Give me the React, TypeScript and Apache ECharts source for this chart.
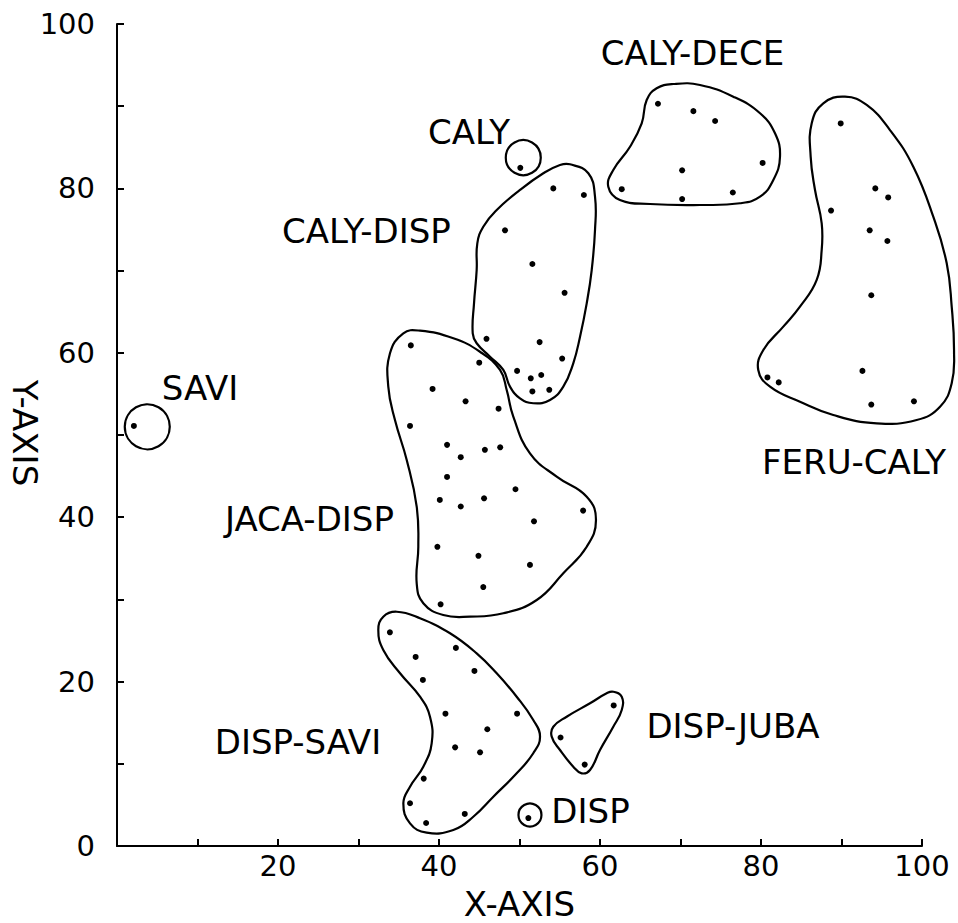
import React, { useEffect, useRef } from "react";
import * as echarts from "echarts";

// ---- tick labels ----
const xTickValues = [20, 40, 60, 80, 100];
const yTickValues = [0, 20, 40, 60, 80, 100];

// ---- sample points per cluster ----
const jacaDispPts = [
  [36.5, 60.9], [45.0, 58.8], [39.2, 55.6], [43.3, 54.1], [47.4, 53.2], [36.4, 51.1],
  [41.0, 48.8], [45.7, 48.2], [47.6, 48.5], [42.7, 47.3], [41.0, 44.9], [49.5, 43.4],
  [40.1, 42.1], [42.7, 41.3], [45.6, 42.3], [57.9, 40.8], [51.8, 39.5], [39.8, 36.4],
  [44.9, 35.3], [51.3, 34.2], [45.5, 31.5], [40.2, 29.4],
];
const calyDispPts = [
  [54.2, 80.0], [58.0, 79.2], [48.2, 74.9], [51.6, 70.8], [55.6, 67.3], [45.9, 61.7],
  [52.5, 61.3], [55.3, 59.3], [49.7, 57.8], [51.4, 56.9], [52.7, 57.3], [51.6, 55.3],
  [53.7, 55.5],
];
const calyDecePts = [
  [67.2, 90.3], [71.6, 89.4], [74.3, 88.2], [80.2, 83.1], [70.2, 82.2], [62.7, 79.9],
  [70.2, 78.7], [76.5, 79.5],
];
const feruCalyPts = [
  [89.9, 87.9], [94.2, 80.0], [95.8, 78.9], [88.7, 77.3], [93.5, 74.9], [95.7, 73.6],
  [93.7, 67.0], [92.6, 57.8], [80.8, 57.0], [82.2, 56.4], [93.7, 53.7], [99.0, 54.1],
];
const dispSaviPts = [
  [33.9, 26.0], [42.1, 24.1], [37.1, 23.0], [44.4, 21.3], [38.0, 20.2], [40.8, 16.1],
  [49.7, 16.1], [46.0, 14.2], [42.0, 12.0], [45.1, 11.4], [38.1, 8.2], [36.4, 5.2],
  [43.2, 3.9], [38.4, 2.8],
];
const dispJubaPts = [[61.7, 17.1], [55.1, 13.2], [58.1, 9.9]];
const calyPts = [[50.1, 82.5]];
const dispPts = [[51.1, 3.4]];
const saviPts = [[2.1, 51.1]];

// ---- single-point groups drawn as small circles: [x, y, diameter px] ----
const singleCircles = [
  [3.76, 51.0, 45],
  [50.47, 83.74, 35],
  [51.3, 3.77, 23],
];

// ---- cluster outlines (data coordinates) ----
const jacaDispOutline = [
  [35.57, 62.37], [37.64, 62.69], [41.78, 61.76], [45.09, 60.13], [47.58, 57.91],
  [48.41, 55.47], [49.23, 52.23], [51.30, 47.77], [54.62, 44.93], [58.35, 42.49],
  [59.50, 39.66], [58.35, 36.41], [55.44, 33.18], [52.14, 29.93], [47.99, 28.31],
  [43.85, 27.90], [40.53, 28.10], [38.05, 29.53], [37.23, 31.96], [37.43, 36.41],
  [37.23, 41.28], [35.99, 46.96], [34.53, 51.82], [33.70, 55.88], [33.91, 59.94],
];
const calyDispOutline = [
  [56.27, 82.93], [58.55, 81.84], [59.38, 78.99], [59.38, 74.94], [58.97, 70.07],
  [58.35, 66.02], [57.52, 61.96], [56.68, 58.72], [55.44, 55.88], [53.79, 54.26],
  [51.71, 53.86], [50.06, 54.46], [48.82, 55.88], [47.99, 57.91], [46.34, 59.53],
  [44.68, 61.16], [44.19, 62.37], [44.35, 66.02], [44.68, 70.07], [44.76, 73.32],
  [45.50, 75.34], [47.17, 77.37], [50.06, 79.81], [52.96, 81.84], [55.03, 82.85],
];
const calyDeceOutline = [
  [69.11, 92.70], [72.42, 92.58], [76.56, 91.16], [79.88, 89.14], [81.74, 86.70],
  [82.36, 83.86], [81.53, 81.02], [79.88, 78.99], [77.39, 78.19], [72.42, 77.98],
  [66.21, 78.10], [62.48, 78.59], [61.03, 80.21], [61.65, 82.24], [63.73, 85.07],
  [65.18, 87.92], [65.80, 90.75], [67.04, 92.18],
];
const feruCalyOutline = [
  [90.43, 91.16], [93.13, 90.15], [96.02, 87.10], [98.92, 82.64], [101.40, 76.56],
  [103.07, 70.89], [103.69, 65.61], [103.98, 60.34], [103.69, 56.29], [102.24, 53.44],
  [99.34, 51.82], [94.37, 51.42], [88.98, 52.43], [84.84, 54.05], [81.12, 55.88],
  [79.66, 57.91], [80.29, 60.34], [82.77, 63.18], [84.84, 65.61], [86.92, 68.86],
  [87.54, 72.51], [87.54, 75.75], [86.71, 79.81], [86.17, 83.86], [86.30, 87.92],
  [87.74, 90.35],
];
const dispSaviOutline = [
  [33.08, 27.90], [34.75, 28.50], [37.64, 27.70], [41.37, 25.88], [44.68, 23.44],
  [47.17, 21.01], [49.65, 18.16], [51.71, 15.33], [52.55, 13.30], [51.71, 11.28],
  [49.65, 8.84], [46.75, 6.00], [44.26, 3.56], [41.78, 1.95], [38.47, 1.62],
  [36.40, 2.76], [35.57, 5.19], [36.40, 7.21], [38.05, 9.65], [39.09, 12.49],
  [38.88, 15.73], [37.64, 18.16], [35.16, 21.01], [33.08, 23.84], [32.46, 26.28],
];
const dispJubaOutline = [
  [61.65, 18.77], [62.70, 18.16], [62.70, 16.55], [61.65, 14.51], [60.0, 11.68],
  [58.76, 9.25], [57.73, 8.84], [56.68, 9.65], [55.03, 11.68], [54.00, 13.30],
  [54.20, 14.51], [55.86, 15.73], [58.76, 17.36], [60.83, 18.58],
];
const outlines = [
  jacaDispOutline, calyDispOutline, calyDeceOutline, feruCalyOutline, dispSaviOutline, dispJubaOutline,
];

// ---- group labels ----
const groupNames = [
  "CALY-DECE", "CALY", "CALY-DISP", "SAVI", "FERU-CALY", "JACA-DISP", "DISP-SAVI", "DISP-JUBA", "DISP",
];
const groupLabelPos = [
  [71.49, 96.47], [43.73, 86.86], [30.99, 74.82], [10.31, 55.72], [91.55, 46.72],
  [23.91, 39.78], [22.48, 12.65], [76.52, 14.60], [58.82, 4.26],
];

const FONT = "'DejaVu Sans', 'Liberation Sans', sans-serif";

export default function App() {
  const ref = useRef<HTMLDivElement>(null);
  useEffect(() => {
    if (!ref.current) return;
    const chart = echarts.init(ref.current, undefined, { renderer: "svg" });
    const allPts = [
      ...jacaDispPts, ...calyDispPts, ...calyDecePts, ...feruCalyPts,
      ...dispSaviPts, ...dispJubaPts, ...calyPts, ...dispPts, ...saviPts,
    ];
    const axisCommon = {
      type: "value" as const,
      min: 0,
      max: 100,
      interval: 10,
      splitLine: { show: false },
      axisLine: { show: true, lineStyle: { color: "#000", width: 2 } },
      axisTick: { show: true, inside: true, length: 7, lineStyle: { color: "#000", width: 2 } },
    };
    chart.setOption({
      animation: false,
      backgroundColor: "#fff",
      grid: {
        left: 117, right: 36, top: 24, bottom: 77,
        containLabel: false, outerBoundsMode: "none",
      },
      graphic: [
        {
          type: "text",
          x: 25,
          y: 433,
          rotation: -Math.PI / 2,
          style: {
            text: "Y-AXIS",
            fontFamily: FONT,
            fontSize: 34,
            fill: "#000",
            align: "center",
            verticalAlign: "middle",
          },
        },
      ],
      xAxis: {
        ...axisCommon,
        name: "X-AXIS",
        nameLocation: "middle",
        nameGap: 41,
        nameTextStyle: { fontFamily: FONT, fontSize: 34, color: "#000" },
        axisLabel: {
          margin: 5,
          fontFamily: FONT,
          fontSize: 29,
          color: "#000",
          formatter: (v: number) => (xTickValues.includes(v) ? String(v) : ""),
        },
      },
      yAxis: {
        ...axisCommon,
        axisLabel: {
          margin: 22,
          fontFamily: FONT,
          fontSize: 29,
          color: "#000",
          formatter: (v: number) => (yTickValues.includes(v) ? String(v) : ""),
        },
      },
      series: [
        {
          type: "custom",
          coordinateSystem: "cartesian2d",
          silent: true,
          clip: false,
          data: outlines.map((o) => o[0]),
          renderItem: (params: any, api: any) => {
            const pts = outlines[params.dataIndex].map((p) => api.coord(p));
            return {
              type: "polygon",
              shape: { points: pts, smooth: 0.45 },
              style: { fill: "none", stroke: "#000", lineWidth: 2.2 },
            };
          },
        },
        {
          type: "scatter",
          silent: true,
          symbol: "circle",
          data: singleCircles.map((c) => [c[0], c[1], c[2]]),
          symbolSize: (v: number[]) => v[2],
          itemStyle: { color: "rgba(0,0,0,0)", borderColor: "#000", borderWidth: 2.2, opacity: 1 },
        },
        {
          type: "scatter",
          silent: true,
          symbol: "circle",
          symbolSize: 6,
          data: allPts,
          itemStyle: { color: "#000", opacity: 1 },
        },
        {
          type: "custom",
          coordinateSystem: "cartesian2d",
          silent: true,
          clip: false,
          data: groupLabelPos,
          renderItem: (params: any, api: any) => {
            const p = api.coord([api.value(0), api.value(1)]);
            return {
              type: "text",
              x: p[0],
              y: p[1],
              style: {
                text: groupNames[params.dataIndex],
                fontFamily: FONT,
                fontSize: 34,
                fill: "#000",
                align: "center",
                verticalAlign: "middle",
              },
            };
          },
        },
      ],
    });
    return () => chart.dispose();
  }, []);
  return (
    <div
      ref={ref}
      style={{ position: "fixed", left: 0, top: 0, width: 958, height: 923, background: "#fff" }}
    />
  );
}
